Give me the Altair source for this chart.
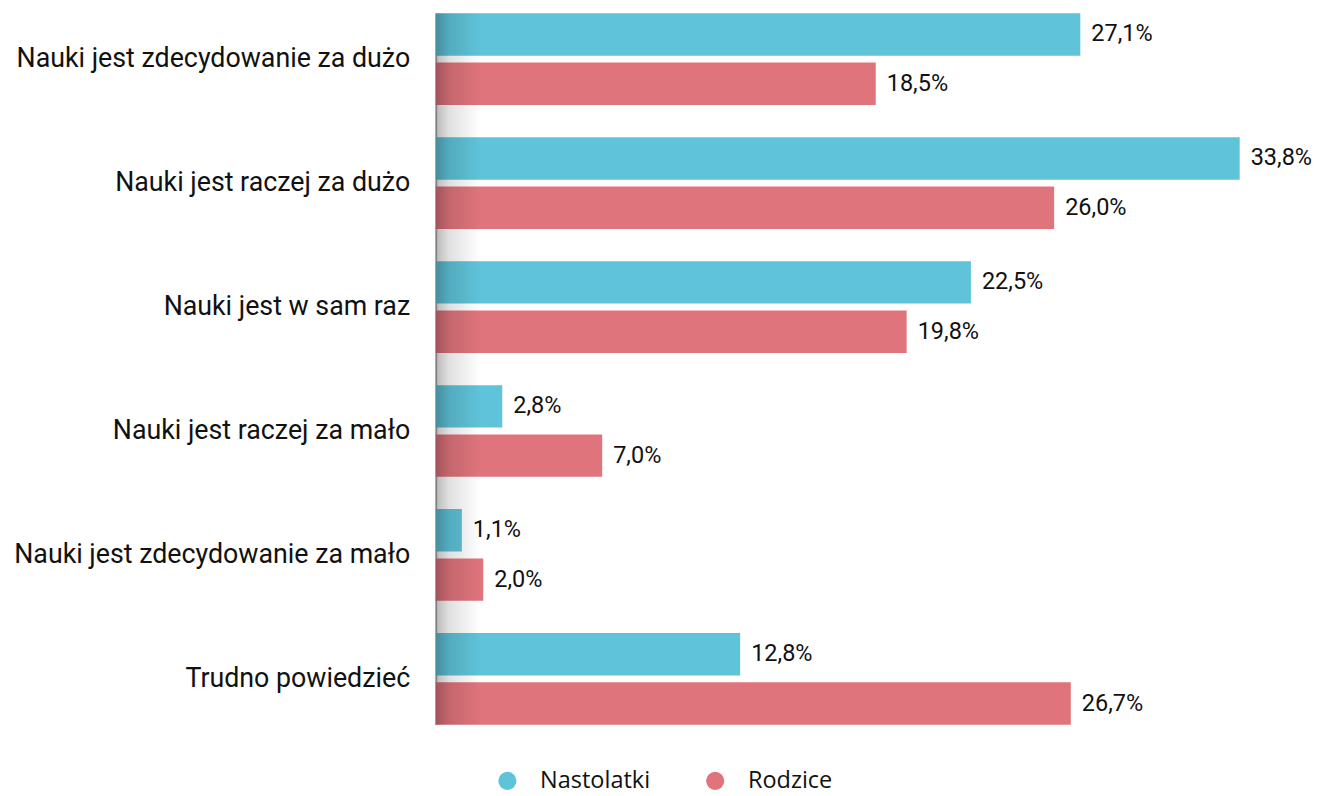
import altair as alt
import pandas as pd

categories = [
    "Nauki jest zdecydowanie za dużo",
    "Nauki jest raczej za dużo",
    "Nauki jest w sam raz",
    "Nauki jest raczej za mało",
    "Nauki jest zdecydowanie za mało",
    "Trudno powiedzieć",
]
series = ["Nastolatki", "Rodzice"]
nastolatki = [27.1, 33.8, 22.5, 2.8, 1.1, 12.8]
rodzice = [18.5, 26.0, 19.8, 7.0, 2.0, 26.7]
colors = ["#5fc3d9", "#df747c"]

PLOT_W = 857
PLOT_H = 712

rows = []
for c, a, b in zip(categories, nastolatki, rodzice):
    rows.append({"kategoria": c, "grupa": series[0], "wartosc": a})
    rows.append({"kategoria": c, "grupa": series[1], "wartosc": b})
df = pd.DataFrame(rows)

base = alt.Chart(df).transform_calculate(
    etykieta="replace(format(datum.wartosc, '.1f'), '.', ',') + '%'"
)

y_enc = alt.Y(
    "kategoria:N",
    sort=categories,
    title=None,
    scale=alt.Scale(paddingInner=0.26, paddingOuter=0),
    axis=alt.Axis(
        labelFont="Roboto",
        labelFontSize=26.8,
        labelColor="#111111",
        labelPadding=26,
        ticks=False,
        domain=True,
        domainColor="#b0b0b0",
        domainWidth=2,
        labelLimit=700,
    ),
)
yoff = alt.YOffset(
    "grupa:N", sort=series, scale=alt.Scale(paddingInner=0.14, paddingOuter=0)
)
x_enc = alt.X(
    "wartosc:Q",
    title=None,
    scale=alt.Scale(domain=[0, 36], nice=False, zero=True),
    axis=None,
)

bars = base.mark_bar().encode(
    y=y_enc,
    yOffset=yoff,
    x=x_enc,
    color=alt.Color(
        "grupa:N",
        sort=series,
        scale=alt.Scale(domain=series, range=colors),
        legend=alt.Legend(
            title=None,
            orient="none",
            legendX=60,
            legendY=756,
            direction="horizontal",
            symbolType="circle",
            symbolSize=330,
            symbolStrokeWidth=0,
            labelFont="Open Sans",
            labelFontSize=23.5,
            labelColor="#111111",
            labelOffset=21,
            columnPadding=53,
        ),
    ),
)

texts = base.mark_text(
    align="left", baseline="middle", dx=11, font="Roboto", fontSize=23.5, color="#111111"
).encode(
    y=alt.Y("kategoria:N", sort=categories),
    yOffset=alt.YOffset("grupa:N", sort=series),
    x="wartosc:Q",
    text="etykieta:N",
)

shade = alt.Chart(pd.DataFrame({"d": [0]})).mark_rect(
    fill=alt.LinearGradient(
        gradient="linear",
        x1=0, x2=1, y1=0, y2=0,
        stops=[
            alt.GradientStop(color="rgba(0,0,0,0.28)", offset=0),
            alt.GradientStop(color="rgba(0,0,0,0.12)", offset=0.3),
            alt.GradientStop(color="rgba(0,0,0,0)", offset=1),
        ],
    )
).encode(x=alt.value(0), x2=alt.value(45), y=alt.value(0), y2=alt.value(PLOT_H))

chart = (
    alt.layer(bars, texts, shade)
    .properties(width=PLOT_W, height=PLOT_H, background="white")
    .configure_view(stroke=None)
)

chart.save("out.html", embed_options={"renderer": "svg", "actions": False})
